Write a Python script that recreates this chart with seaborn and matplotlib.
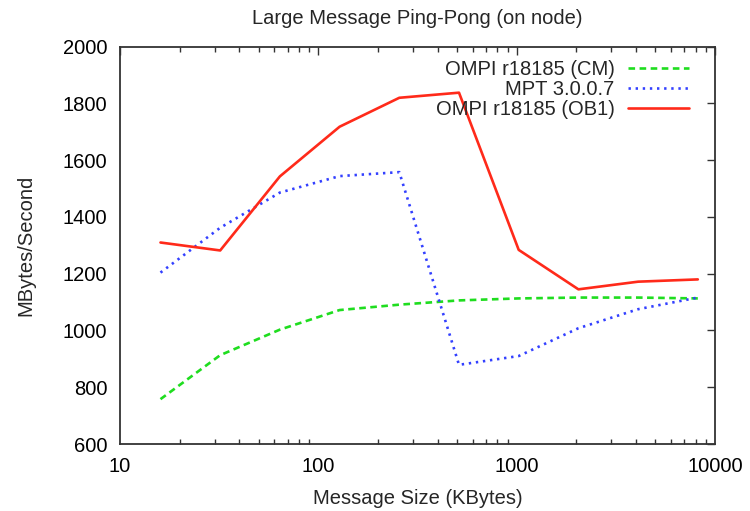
import matplotlib
matplotlib.use("Agg")
import matplotlib.pyplot as plt
import seaborn as sns
import pandas as pd
from matplotlib.ticker import LogLocator, FixedLocator, NullFormatter

sizes = [16, 32, 64, 128, 256, 512, 1024, 2048, 4096, 8192]
cm_vals = [758, 913, 1003, 1072, 1091, 1106, 1113, 1116, 1116, 1113]
mpt_vals = [1204, 1362, 1486, 1544, 1558, 879, 910, 1008, 1075, 1116]
ob1_vals = [1310, 1282, 1543, 1718, 1820, 1838, 1284, 1145, 1172, 1180]
series_names = ["OMPI r18185 (CM)", "MPT 3.0.0.7", "OMPI r18185 (OB1)"]
x_ticks = [10, 100, 1000, 10000]
y_ticks = [600, 800, 1000, 1200, 1400, 1600, 1800, 2000]

sns.set_theme(style="white")
plt.rcParams['font.family'] = ['Liberation Sans', 'DejaVu Sans']

FS = 14.5
W, H = 750, 511
fig = plt.figure(figsize=(W / 100, H / 100), dpi=100)
ax = fig.add_axes([120 / W, (H - 444) / H, (715 - 120) / W, (444 - 46.7) / H])

styles = [
    dict(color="#1fdd1f", dashes=(2.5, 1.7)),
    dict(color="#3340ff", dashes=(0.9, 1.8)),
    dict(color="#ff2a1a", dashes=None),
]
for name, vals, st in zip(series_names, [cm_vals, mpt_vals, ob1_vals], styles):
    df = pd.DataFrame({"size": sizes, "val": vals})
    sns.lineplot(data=df, x="size", y="val", ax=ax, color=st["color"],
                 linewidth=1.9, label=name)
    l = ax.get_lines()[-1]
    if st["dashes"] is not None:
        l.set_dashes(st["dashes"])
        l.set_dash_capstyle("butt")

ax.set_xscale("log")
ax.set_xlim(10, 10000)
ax.set_ylim(600, 2000)
ax.xaxis.set_major_locator(FixedLocator(x_ticks))
ax.set_xticklabels([str(t) for t in x_ticks])
ax.xaxis.set_minor_locator(LogLocator(base=10, subs=range(2, 10)))
ax.xaxis.set_minor_formatter(NullFormatter())
ax.yaxis.set_major_locator(FixedLocator(y_ticks))
ax.set_yticklabels([str(t) for t in y_ticks])

ax.tick_params(axis="both", which="major", direction="in", length=6, width=1,
               top=True, right=True, labelsize=FS, colors="#333333",
               labelcolor="black")
ax.tick_params(axis="x", which="major", pad=9)
ax.tick_params(axis="y", which="major", pad=9)
ax.tick_params(axis="x", which="minor", direction="in", length=3.5, width=1,
               top=True, bottom=True, colors="#333333")
for s in ax.spines.values():
    s.set_color("#333333")
    s.set_linewidth(1.3)

ax.set_xlabel("Message Size (KBytes)", fontsize=FS, labelpad=9.5)
ax.set_ylabel("MBytes/Second", fontsize=FS, labelpad=20)
ax.set_title("Large Message Ping-Pong (on node)", fontsize=FS, pad=16)

leg = ax.legend(loc="upper right", frameon=False, markerfirst=False,
                fontsize=FS, handlelength=3.05, labelspacing=0.05,
                borderpad=0, borderaxespad=0, handletextpad=0.65,
                bbox_to_anchor=((689 - 120) / 595, (444 - 60) / 397.3))
for t in leg.get_texts():
    t.set_ha("right")
leg._legend_box.align = "right"

fig.savefig("out.png", dpi=100)
